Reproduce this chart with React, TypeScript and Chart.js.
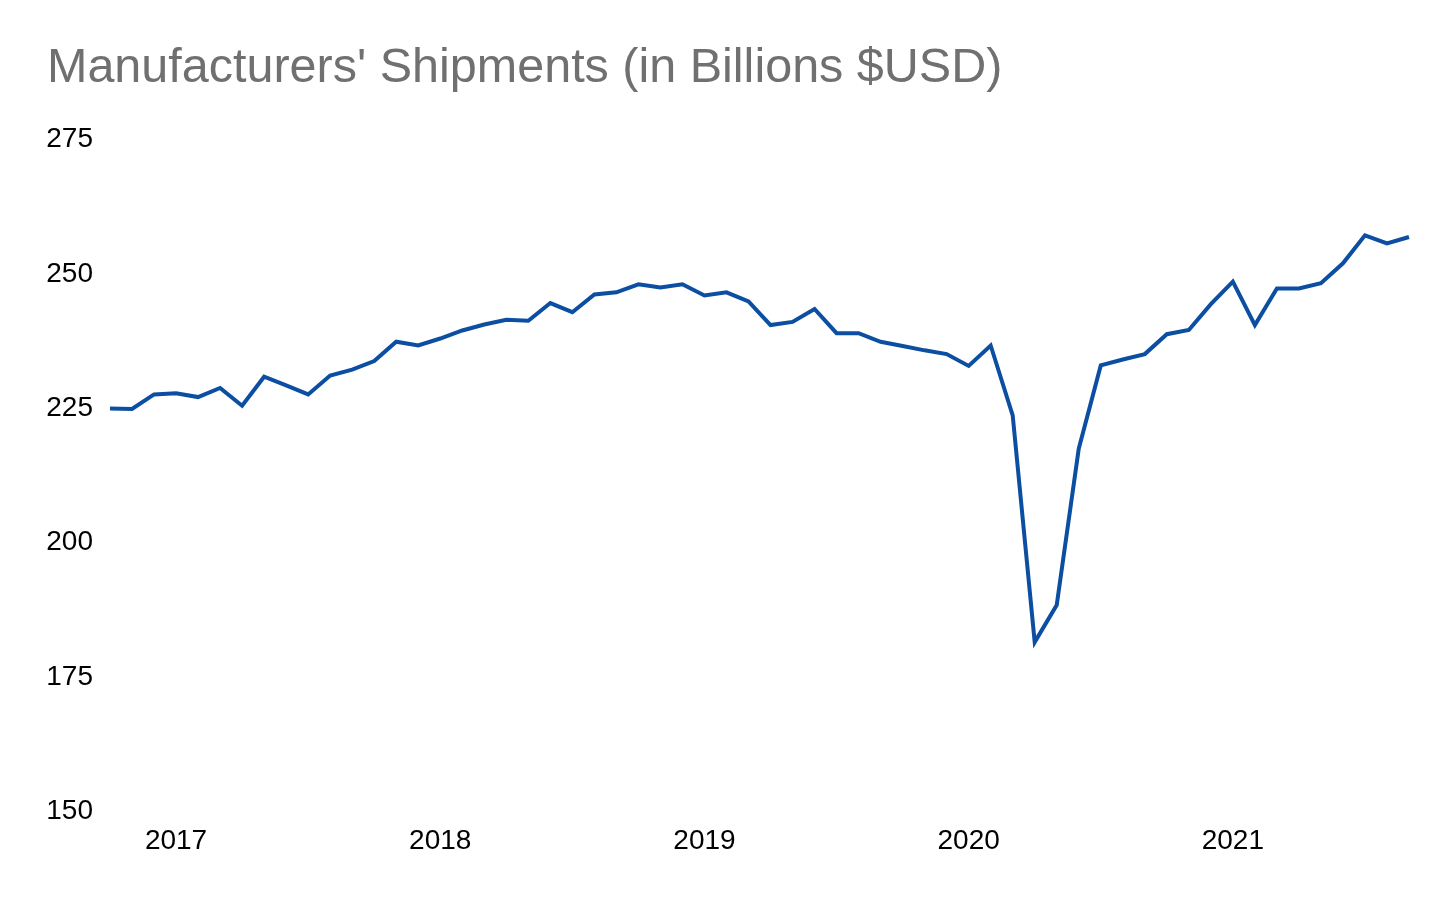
import { useEffect, useRef } from "react";
import Chart from "chart.js/auto";

// monthly, Oct 2016 - Sep 2021
const months = [
	"2016-10", "2016-11", "2016-12",
	"2017-01", "2017-02", "2017-03", "2017-04", "2017-05", "2017-06", "2017-07", "2017-08", "2017-09", "2017-10", "2017-11", "2017-12",
	"2018-01", "2018-02", "2018-03", "2018-04", "2018-05", "2018-06", "2018-07", "2018-08", "2018-09", "2018-10", "2018-11", "2018-12",
	"2019-01", "2019-02", "2019-03", "2019-04", "2019-05", "2019-06", "2019-07", "2019-08", "2019-09", "2019-10", "2019-11", "2019-12",
	"2020-01", "2020-02", "2020-03", "2020-04", "2020-05", "2020-06", "2020-07", "2020-08", "2020-09", "2020-10", "2020-11", "2020-12",
	"2021-01", "2021-02", "2021-03", "2021-04", "2021-05", "2021-06", "2021-07", "2021-08", "2021-09",
];

const shipments = [
	225.0, 224.9, 227.6,
	227.8, 227.1, 228.8, 225.5, 230.9, 229.3, 227.6, 231.1, 232.2, 233.8, 237.4, 236.7,
	238.0, 239.5, 240.6, 241.5, 241.3, 244.6, 242.9, 246.2, 246.6, 248.1, 247.5, 248.1,
	246.0, 246.6, 244.9, 240.5, 241.1, 243.5, 239.0, 239.0, 237.4, 236.6, 235.8, 235.1,
	232.9, 236.7, 223.7, 181.5, 188.4, 217.5, 233.0, 234.1, 235.1, 238.8, 239.6, 244.4,
	248.6, 240.5, 247.3, 247.3, 248.3, 252.0, 257.2, 255.7, 256.9,
];

const yTicks = [150, 175, 200, 225, 250, 275];

const FONT = "'Liberation Sans', Arial, sans-serif";

export default function App() {
	const chartRef = useRef<HTMLCanvasElement>(null);
	const chartInstance = useRef<Chart | null>(null);

	useEffect(() => {
		if (!chartRef.current) return;
		if (chartInstance.current) chartInstance.current.destroy();

		chartInstance.current = new Chart(chartRef.current, {
			type: "line",
			data: {
				labels: months,
				datasets: [
					{
						label: "Shipments",
						data: shipments,
						borderColor: "#0b4ea2",
						borderWidth: 4,
						pointRadius: 0,
						tension: 0,
						fill: false,
					},
				],
			},
			options: {
				responsive: true,
				maintainAspectRatio: false,
				animation: false,
				layout: {
					padding: { left: 47, right: 47, top: 0, bottom: 29 },
				},
				plugins: {
					legend: { display: false },
					tooltip: { enabled: false },
					title: {
						display: true,
						text: "Manufacturers' Shipments (in Billions $USD)",
						align: "start",
						color: "#707070",
						font: { family: FONT, size: 48.5, weight: "normal", lineHeight: 1.2 },
						padding: { top: 40, bottom: 41.5 },
					},
				},
				scales: {
					x: {
						grid: { display: false, drawTicks: false },
						border: { display: false },
						ticks: {
							autoSkip: false,
							maxRotation: 0,
							padding: 13,
							color: "#000",
							font: { family: FONT, size: 28 },
							callback: function (value) {
								const m = months[value as number];
								return m.endsWith("-01") ? m.slice(0, 4) : null;
							},
						},
					},
					y: {
						min: yTicks[0],
						max: yTicks[yTicks.length - 1],
						afterBuildTicks: (axis) => {
							axis.ticks = yTicks.map((v) => ({ value: v }));
						},
						afterFit: (axis) => {
							axis.width = 63;
						},
						grid: { display: false, drawTicks: false },
						border: { display: false },
						ticks: {
							padding: 17,
							color: "#000",
							font: { family: FONT, size: 28 },
						},
					},
				},
			},
		});

		return () => {
			if (chartInstance.current) {
				chartInstance.current.destroy();
				chartInstance.current = null;
			}
		};
	}, []);

	return (
		<div style={{ position: "fixed", left: 0, top: 0, width: 1456, height: 900, background: "#fff" }}>
			<canvas ref={chartRef}></canvas>
		</div>
	);
}
